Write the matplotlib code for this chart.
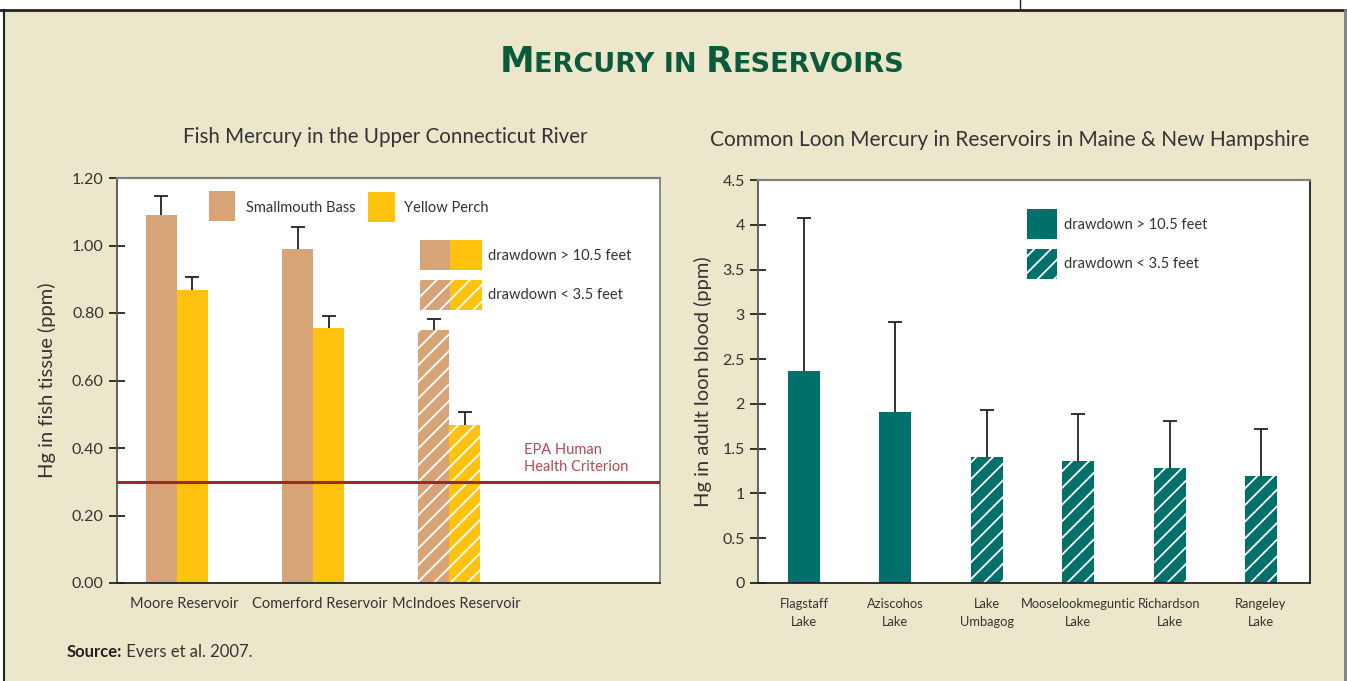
import numpy as np
import matplotlib
matplotlib.use("Agg")
import matplotlib.pyplot as plt
from matplotlib.patches import Rectangle
from matplotlib.lines import Line2D
from matplotlib.offsetbox import TextArea, HPacker, AnnotationBbox


# ---- data ----
reservoirs = ["Moore Reservoir", "Comerford Reservoir", "McIndoes Reservoir"]
bass = [1.09, 0.99, 0.75]
bass_top = [1.147, 1.055, 0.782]      # top of error bar
perch = [0.868, 0.756, 0.468]
perch_top = [0.907, 0.791, 0.507]
fish_hatched = [False, False, True]
epa_criterion = 0.30

lakes = ["Flagstaff\nLake", "Aziscohos\nLake", "Lake\nUmbagog",
         "Mooselookmeguntic\nLake", "Richardson\nLake", "Rangeley\nLake"]
loon = [2.37, 1.91, 1.41, 1.36, 1.28, 1.19]
loon_top = [4.08, 2.91, 1.93, 1.89, 1.81, 1.72]
loon_hatched = [False, False, True, True, True, True]

fish_ticks = [0.0, 0.2, 0.4, 0.6, 0.8, 1.0, 1.2]
loon_ticks = [0, 0.5, 1, 1.5, 2, 2.5, 3, 3.5, 4, 4.5]

# ---- style ----
BEIGE = "#ECE7CB"
TAN = "#D6A477"
GOLD = "#FFC20E"
TEAL = "#00706B"
GREEN = "#0B5A3B"
TXT = "#333333"
W, H = 1347, 681

plt.rcParams["font.family"] = ["Lato", "DejaVu Sans"]
plt.rcParams["hatch.linewidth"] = 1.3

fig = plt.figure(figsize=(W / 100, H / 100), dpi=100)
fig.patch.set_facecolor("white")


def fx(x):
    return x / W


def fy(y):
    return 1 - y / H


# page panel + border
fig.add_artist(Rectangle((fx(3), 0), fx(1342), fy(10), transform=fig.transFigure,
                         facecolor=BEIGE, edgecolor="none", zorder=-1))
fig.add_artist(Line2D([0, 1], [fy(10), fy(10)], transform=fig.transFigure, color="#222222", lw=2))
fig.add_artist(Line2D([fx(4), fx(4)], [0, fy(10)], transform=fig.transFigure, color="#222222", lw=1.5))
fig.add_artist(Line2D([fx(1345), fx(1345)], [0, fy(10)], transform=fig.transFigure, color="#808080", lw=2))
fig.add_artist(Line2D([fx(1020), fx(1020)], [fy(10), 1], transform=fig.transFigure, color="#222222", lw=1))


def style_axes(ax, right_dark=False):
    ax.set_facecolor("white")
    ax.spines["top"].set_color("#808080")
    ax.spines["top"].set_linewidth(1.6)
    ax.spines["left"].set_color("#555555")
    ax.spines["left"].set_linewidth(1.3)
    ax.spines["bottom"].set_color("#222222")
    ax.spines["bottom"].set_linewidth(1.3)
    ax.spines["right"].set_color("#222222" if right_dark else "#808080")
    ax.spines["right"].set_linewidth(1.3)
    ax.tick_params(axis="y", direction="inout", length=11, width=1.3, color="#222222",
                   labelsize=11.5, labelcolor=TXT, pad=4)
    ax.tick_params(axis="x", length=0, labelsize=10.5, labelcolor=TXT, pad=10)


def up_err(ax, xs, vals, tops):
    # upper-only error bars: stem + cap
    ax.vlines(xs, vals, tops, color="#222222", lw=1.3, zorder=3)
    ax.plot(xs, tops, ls="none", marker="_", markersize=10, mew=1.3, color="#222222", zorder=3)


# =========================
# left: fish
# =========================
ax1 = fig.add_axes([fx(117), fy(583), fx(660 - 117), (583 - 178) / H])
style_axes(ax1)
x = np.arange(len(reservoirs))
w = 0.228

b1 = ax1.bar(x - w / 2, bass, w, color=TAN, edgecolor="white", linewidth=0)
b2 = ax1.bar(x + w / 2, perch, w, color=GOLD, edgecolor="white", linewidth=0)
for bars in (b1, b2):
    for b, hh in zip(bars, fish_hatched):
        if hh:
            b.set_hatch("//")

up_err(ax1, x - w / 2, bass, bass_top)
up_err(ax1, x + w / 2, perch, perch_top)

ax1.axhline(epa_criterion, color="#A4262C", lw=2.2, zorder=4)
ax1.text(2.55, 0.322, "EPA Human\nHealth Criterion", color="#B34A55", fontsize=10.5,
         va="bottom", ha="left", linespacing=1.3)

ax1.set_xlim(-0.441, 3.551)
ax1.set_ylim(0, 1.2)
ax1.set_yticks(fish_ticks, [f"{v:.2f}" for v in fish_ticks])
ax1.set_xticks(x + 0.05, reservoirs)
ax1.set_ylabel("Hg in fish tissue (ppm)", fontsize=14.5, color=TXT)
ax1.yaxis.set_label_coords((56 - 117) / 543, 0.5)

# =========================
# right: loons
# =========================
ax2 = fig.add_axes([fx(758), fy(583), fx(1310 - 758), (583 - 180) / H])
style_axes(ax2, right_dark=True)
xl = np.arange(len(lakes))
wl = 0.35
b3 = ax2.bar(xl, loon, wl, color=TEAL, edgecolor="white", linewidth=0)
for b, hh in zip(b3, loon_hatched):
    if hh:
        b.set_hatch("//")
up_err(ax2, xl, loon, loon_top)
ax2.set_xlim(-0.503, 5.536)
ax2.set_ylim(0, 4.5)
ax2.set_yticks(loon_ticks, [f"{v:g}" for v in loon_ticks])
ax2.set_xticks(xl, lakes, linespacing=1.55, fontsize=9.3)
ax2.tick_params(axis="x", pad=11)
ax2.set_ylabel("Hg in adult loon blood (ppm)", fontsize=14.5, color=TXT)
ax2.yaxis.set_label_coords((712 - 758) / 552, 0.5)

# =========================
# legends (hand drawn keys)
# =========================


def key(x0, y0, x1, y1, color, hatch=None):
    r = Rectangle((fx(x0), fy(y1)), fx(x1 - x0), (y1 - y0) / H, transform=fig.transFigure,
                  facecolor=color, edgecolor="white", linewidth=0, hatch=hatch, zorder=5)
    fig.add_artist(r)


def key_text(x0, y, s):
    fig.text(fx(x0), fy(y), s, fontsize=10.5, color=TXT, va="center", ha="left", zorder=5)


key(209, 191, 235, 221, TAN)
key_text(246, 208, "Smallmouth Bass")
key(368, 192, 395, 222, GOLD)
key_text(404, 208, "Yellow Perch")
key(420, 240, 450, 270, TAN)
key(450, 240, 482, 270, GOLD)
key_text(488, 256, "drawdown > 10.5 feet")
key(420, 280, 450, 310, TAN, "//")
key(450, 280, 482, 310, GOLD, "//")
key_text(488, 295, "drawdown < 3.5 feet")

key(1027, 209, 1057, 239, TEAL)
key_text(1064, 225, "drawdown > 10.5 feet")
key(1027, 249, 1057, 279, TEAL, "//")
key_text(1064, 264, "drawdown < 3.5 feet")

# =========================
# titles
# =========================
fig.text(fx(385), fy(137), "Fish Mercury in the Upper Connecticut River",
         fontsize=14.8, color=TXT, ha="center", va="center")
fig.text(fx(1010), fy(140), "Common Loon Mercury in Reservoirs in Maine & New Hampshire",
         fontsize=15, color=TXT, ha="center", va="center")

tfont = dict(color=GREEN, fontweight="bold", family=["Liberation Sans Narrow", "DejaVu Sans"])
parts = [TextArea("M", textprops=dict(fontsize=25, **tfont)),
         TextArea("ERCURY IN ", textprops=dict(fontsize=19.5, **tfont)),
         TextArea("R", textprops=dict(fontsize=25, **tfont)),
         TextArea("ESERVOIRS", textprops=dict(fontsize=19.5, **tfont))]
title_box = HPacker(children=parts, align="baseline", pad=0, sep=0)
fig.add_artist(AnnotationBbox(title_box, (fx(702), fy(62)), xycoords="figure fraction",
                              frameon=False, box_alignment=(0.5, 0.5)))

src = HPacker(children=[TextArea("Source:", textprops=dict(fontsize=12, fontweight="bold", color="#222222")),
                        TextArea(" Evers et al. 2007.", textprops=dict(fontsize=12, color=TXT))],
              align="baseline", pad=0, sep=0)
fig.add_artist(AnnotationBbox(src, (fx(67), fy(652)), xycoords="figure fraction",
                              frameon=False, box_alignment=(0, 0.5)))

fig.savefig("out.png", dpi=100)
